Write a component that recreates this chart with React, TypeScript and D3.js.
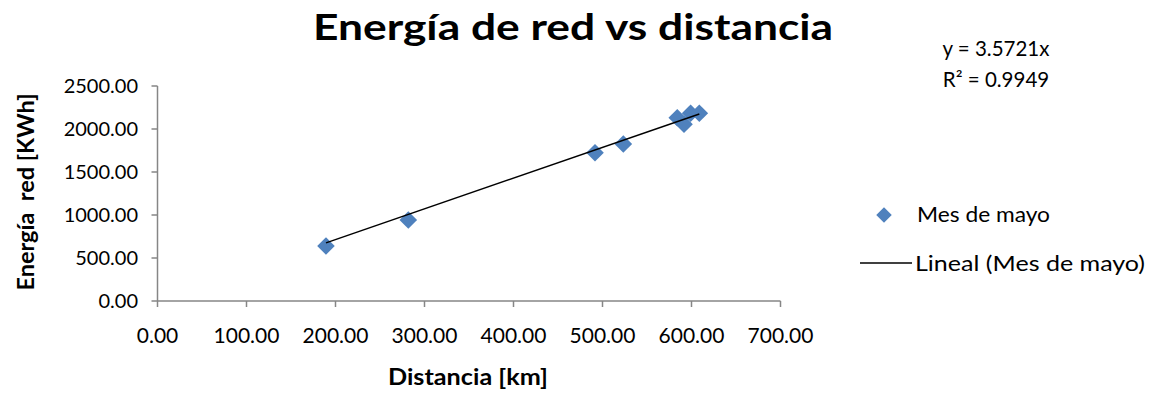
import React from "react";
import * as d3 from "d3";

const distancia = [189.3, 281.8, 491.6, 523.4, 584.0, 591.6, 599.0, 608.8];
const energia = [639, 942, 1724, 1826, 2131, 2055, 2183, 2183];
const xTicks = [0, 100, 200, 300, 400, 500, 600, 700];
const yTicks = [0, 500, 1000, 1500, 2000, 2500];
const slope = 3.5721;
const title = "Energía de red vs distancia";
const xTitle = "Distancia [km]";
const yTitle = "Energía  red [KWh]";
const eqLines = ["y = 3.5721x", "R² = 0.9949"];
const seriesName = "Mes de mayo";
const trendName = "Lineal (Mes de mayo)";

const W = 1156;
const H = 393;
const FONT = "Lato, 'Open Sans', sans-serif";
const AXIS = "#868686";
const BLUE = "#4F81BD";

export default function App() {
  const x = d3.scaleLinear().domain([0, 700]).range([157.5, 780.5]);
  const y = d3.scaleLinear().domain([0, 2500]).range([301, 86]);
  const fmt = d3.format(".2f");
  const diamond = d3.symbol().type(d3.symbolSquare).size(155)();
  const legendDiamond = d3.symbol().type(d3.symbolSquare).size(120)();
  const xMin = d3.min(distancia)!;
  const xMax = d3.max(distancia)!;
  const line = d3
    .line<number>()
    .x((d) => x(d))
    .y((d) => y(d * slope));

  return (
    <svg
      width={W}
      height={H}
      style={{ position: "absolute", left: 0, top: 0, background: "#fff" }}
      fontFamily={FONT}
    >
      <rect width={W} height={H} fill="#fff" />
      <text
        x={573}
        y={40}
        textAnchor="middle"
        fontSize={37}
        fontWeight="bold"
        fill="#000"
        textLength={520}
        lengthAdjust="spacingAndGlyphs"
      >
        {title}
      </text>
      {/* axes */}
      <line x1={x(0)} x2={x(700)} y1={y(0)} y2={y(0)} stroke={AXIS} strokeWidth={1.5} />
      <line x1={x(0)} x2={x(0)} y1={y(0)} y2={y(2500)} stroke={AXIS} strokeWidth={1.5} />
      {xTicks.map((t) => (
        <g key={"x" + t}>
          <line x1={x(t)} x2={x(t)} y1={y(0)} y2={y(0) + 6} stroke={AXIS} strokeWidth={1.5} />
          <text x={x(t)} y={343} textAnchor="middle" fontSize={21} fill="#000">
            {fmt(t)}
          </text>
        </g>
      ))}
      {yTicks.map((t) => (
        <g key={"y" + t}>
          <line x1={x(0) - 6} x2={x(0)} y1={y(t)} y2={y(t)} stroke={AXIS} strokeWidth={1.5} />
          <text x={138} y={y(t) + 7} textAnchor="end" fontSize={20} fill="#000">
            {fmt(t)}
          </text>
        </g>
      ))}
      <text
        x={468}
        y={385}
        textAnchor="middle"
        fontSize={22}
        fontWeight="bold"
        fill="#000"
        textLength={160}
        lengthAdjust="spacingAndGlyphs"
      >
        {xTitle}
      </text>
      <text
        transform={`translate(34,192) rotate(-90)`}
        textAnchor="middle"
        fontSize={22}
        fontWeight="bold"
        fill="#000"
        style={{ whiteSpace: "pre" }}
        textLength={197}
        lengthAdjust="spacingAndGlyphs"
      >
        {yTitle}
      </text>
      {/* markers */}
      {distancia.map((d, i) => (
        <path
          key={i}
          d={diamond}
          transform={`translate(${x(d)},${y(energia[i])}) rotate(45)`}
          fill={BLUE}
        />
      ))}
      {/* trend line */}
      <path d={line([xMin, xMax])!} stroke="#000" strokeWidth={1.5} fill="none" />
      {/* equation */}
      {eqLines.map((s, i) => (
        <text key={s} x={996} y={56 + i * 31} textAnchor="middle" fontSize={20.5} fill="#000">
          {s}
        </text>
      ))}
      {/* legend */}
      <path d={legendDiamond} transform="translate(884,215) rotate(45)" fill={BLUE} />
      <text
        x={917}
        y={222}
        fontSize={22}
        fill="#000"
        textLength={133}
        lengthAdjust="spacingAndGlyphs"
      >
        {seriesName}
      </text>
      <line x1={860} x2={912} y1={263} y2={263} stroke="#000" strokeWidth={1.5} />
      <text
        x={915}
        y={271}
        fontSize={22}
        fill="#000"
        textLength={230}
        lengthAdjust="spacingAndGlyphs"
      >
        {trendName}
      </text>
    </svg>
  );
}
